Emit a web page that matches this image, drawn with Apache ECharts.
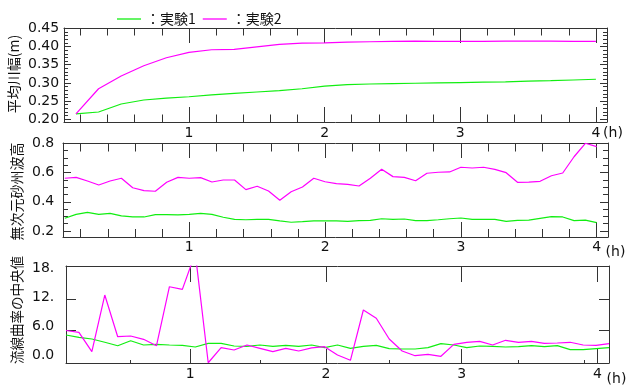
<!DOCTYPE html>
<html><head><meta charset="utf-8">
<script src="https://cdn.jsdelivr.net/npm/echarts@6/dist/echarts.min.js"></script>
<style>html,body{margin:0;padding:0;background:#fff}#c{width:626px;height:385px}</style>
</head><body><div id="c"></div>
<script>
// ---------------- data ----------------
const seriesNames = ['実験1', '実験2'];
const xTickLabels = [1, 2, 3, 4];
const yTicksTop = [0.20, 0.25, 0.30, 0.35, 0.40, 0.45];
const yTicksMid = [0.2, 0.4, 0.6, 0.8];
const yTicksBot = [0, 6, 12, 18];
const yTickLabelsBot = ['0.0', '6.0', '12.', '18.'];
const yNames = ['平均川幅(m)', '無次元砂州波高', '流線曲率の中央値'];

// top panel: sampled every 10 min (1/6 h .. 4 h)
const timeTop = Array.from({length: 24}, (_, i) => (i + 1) / 6);
const widthExp1 = [0.215,0.220,0.242,0.253,0.258,0.262,0.267,0.271,0.275,0.279,0.284,0.291,
                   0.295,0.297,0.298,0.299,0.300,0.301,0.302,0.303,0.305,0.306,0.308,0.310];
const widthExp2 = [0.215,0.284,0.319,0.347,0.369,0.384,0.391,0.392,0.399,0.406,0.409,0.410,
                   0.412,0.413,0.414,0.415,0.414,0.414,0.414,0.415,0.415,0.415,0.414,0.414];

// middle panel: sampled every 5 min (1/12 h .. 4 h)
const timeMid = Array.from({length: 48}, (_, i) => (i + 1) / 12);
const heightExp1 = [0.287,0.314,0.328,0.314,0.321,0.303,0.296,0.296,0.312,0.312,0.310,0.314,
                    0.321,0.314,0.294,0.280,0.277,0.280,0.280,0.269,0.260,0.264,0.269,0.269,
                    0.269,0.266,0.271,0.273,0.284,0.280,0.282,0.271,0.271,0.277,0.284,0.289,
                    0.280,0.280,0.280,0.266,0.273,0.275,0.287,0.298,0.296,0.271,0.275,0.257];
const heightExp2 = [0.561,0.567,0.542,0.515,0.542,0.561,0.496,0.476,0.472,0.533,0.567,0.561,
                    0.565,0.535,0.549,0.549,0.483,0.506,0.474,0.410,0.469,0.501,0.561,0.537,
                    0.524,0.519,0.508,0.561,0.622,0.572,0.567,0.544,0.595,0.602,0.604,0.636,
                    0.631,0.636,0.622,0.599,0.533,0.535,0.540,0.578,0.597,0.708,0.800,0.777];

// bottom panel: 43 samples spanning 0.086 h .. 4.085 h
const timeBot = Array.from({length: 43}, (_, i) => 0.086 + i * (4.085 - 0.086) / 42);
const curvExp1 = [5.02,4.57,4.24,3.60,2.93,3.91,3.07,3.20,3.07,3.00,2.68,3.40,3.40,2.87,2.81,
                  3.07,2.81,3.00,2.81,3.07,2.55,3.07,2.42,2.81,3.00,2.35,2.29,2.29,2.55,3.33,
                  3.07,2.55,2.87,2.81,2.68,2.74,2.94,2.74,2.94,2.16,2.16,2.35,2.55];
const curvExp2 = [5.90,5.55,1.76,12.84,4.69,4.83,4.18,2.93,14.46,13.95,21.0,-0.4,2.54,2.09,3.07,
                  2.42,1.76,2.42,1.90,2.50,2.74,1.11,0.08,9.91,8.29,4.24,1.90,0.98,1.25,0.86,
                  3.20,3.60,3.79,3.07,3.99,3.60,3.79,3.40,3.46,3.60,3.07,3.00,3.33];

// ---------------- styling ----------------
const AXIS = '#333';
const TXT = '#111';
const NUMFONT = 'DejaVu Sans';
const CJKFONT = 'Noto Sans CJK JP';
const C1 = '#11ee11', C2 = '#ff00ff';

function range(a, b, step, exclude) {
  const out = [];
  for (let v = a; v <= b + 1e-9; v += step) {
    const r = Math.round(v * 1000) / 1000;
    if (!exclude || !exclude.some(e => Math.abs(e - r) < 1e-6)) out.push(r);
  }
  return out;
}
const xMinor = range(0.2, 4.0, 0.2, xTickLabels);
const yMinorTop = range(0.20, 0.45, 0.01, yTicksTop);
const yMinorMid = range(0.2, 0.8, 0.05, yTicksMid);
const xOddBot = [0.557, 1.516, 2.47, 3.42, 3.9];

const panels = [
  {grid:{left:64, top:28, width:543, height:94}, x:[0.0786, 4.0818], y:[0.1926, 0.4508],
   xTop:[15, 7.5], xBot:[15, 7.5], xMinorTop:xMinor, xMinorBot:xMinor, yMaj:yTicksTop, yMin:yMinorTop,
   yLen:[7, 4], labelMargin:4, yLabelMargin:36, yLabels:yTicksTop, fmt:v => v.toFixed(2)},
  {grid:{left:63, top:143, width:545, height:94}, x:[0.07, 4.0833], y:[0.159, 0.802],
   xTop:[15, 8.5], xBot:[15, 8], xMinorTop:xMinor, xMinorBot:xMinor, yMaj:yTicksMid, yMin:yMinorMid,
   yLen:[8, 5], labelMargin:3, yLabelMargin:31, yLabels:yTicksMid, fmt:v => v.toFixed(1)},
  {grid:{left:66, top:266, width:543, height:97}, x:[0.086, 4.085], y:[-0.449, 18.51],
   xTop:[16, 0], xBot:[14, 3], xMinorTop:null, xMinorBot:xOddBot, yMaj:[6, 12], yMin:null,
   yLen:[10, 0], labelMargin:4, yLabelMargin:34, yLabels:null}
];

function xAxis(g, pos, r, ticks, len, line, label) {
  return {
    type:'value', gridIndex:g, position:pos, min:r[0], max:r[1], offset:0,
    axisLine:{show:line, onZero:false, lineStyle:{color:AXIS, width:1}},
    axisTick: ticks ? {show:true, inside:true, length:len, customValues:ticks, lineStyle:{color:AXIS, width:1}} : {show:false},
    axisLabel: label ? Object.assign({show:true, customValues:xTickLabels, color:TXT, fontSize:14, fontFamily:NUMFONT}, label) : {show:false},
    splitLine:{show:false}, axisPointer:{show:false}
  };
}
function yAxis(g, pos, r, ticks, len, line, label) {
  return {
    type:'value', gridIndex:g, position:pos, min:r[0], max:r[1], offset:0,
    axisLine:{show:line, onZero:false, lineStyle:{color:AXIS, width:1}},
    axisTick: ticks ? {show:true, inside:true, length:len, customValues:ticks, lineStyle:{color:AXIS, width:1}} : {show:false},
    axisLabel: label ? Object.assign({show:true, color:TXT, fontSize:14, fontFamily:NUMFONT, align:'left'}, label) : {show:false},
    splitLine:{show:false}, axisPointer:{show:false}
  };
}

const grids = [], xAxes = [], yAxes = [], series = [];
const seriesData = [[timeTop, widthExp1, widthExp2], [timeMid, heightExp1, heightExp2], [timeBot, curvExp1, curvExp2]];
panels.forEach((p, g) => {
  grids.push(Object.assign({outerBoundsMode:'none', containLabel:false}, p.grid));
  const xi = xAxes.length, yi = yAxes.length;
  xAxes.push(xAxis(g, 'bottom', p.x, xTickLabels, p.xBot[0], true, {margin:p.labelMargin}));
  xAxes.push(xAxis(g, 'bottom', p.x, p.xMinorBot, p.xBot[1], false, null));
  xAxes.push(xAxis(g, 'top', p.x, xTickLabels, p.xTop[0], true, null));
  xAxes.push(xAxis(g, 'top', p.x, p.xMinorTop, p.xTop[1], false, null));
  yAxes.push(yAxis(g, 'left', p.y, p.yMaj, p.yLen[0], true,
    p.yLabels ? {customValues:p.yLabels, margin:p.yLabelMargin, formatter:p.fmt} : null));
  yAxes.push(yAxis(g, 'left', p.y, p.yMin, p.yLen[1], false, null));
  yAxes.push(yAxis(g, 'right', p.y, p.yMaj, p.yLen[0], true, null));
  yAxes.push(yAxis(g, 'right', p.y, p.yMin, p.yLen[1], false, null));
  const [t, a, b] = seriesData[g];
  [[a, C1, seriesNames[0]], [b, C2, seriesNames[1]]].forEach(([vals, col, nm]) => {
    series.push({type:'line', name:nm, xAxisIndex:xi, yAxisIndex:yi, data:t.map((tt, i) => [tt, vals[i]]),
      symbol:'none', showSymbol:false, lineStyle:{color:col, width:1.2}, itemStyle:{color:col},
      silent:true, clip:true, animation:false});
  });
});
// bottom panel tick labels (placed where the original prints them)
yAxes.push(yAxis(2, 'left', [-1.66, 18.48], null, 0, false,
  {customValues:yTicksBot, margin:34, formatter:v => yTickLabelsBot[yTicksBot.indexOf(v)]}));

const graphics = [];
const namePos = [[13.8, 74, 14], [17, 191.5, 14], [16.8, 310, 13.5]];
yNames.forEach((n, i) => graphics.push({type:'text', x:namePos[i][0], y:namePos[i][1], rotation:Math.PI / 2,
  style:{text:n, fill:TXT, font:namePos[i][2] + 'px "' + CJKFONT + '"', textAlign:'center', textVerticalAlign:'middle'}}));
[[613, 133], [615.5, 252], [616.5, 379.5]].forEach(([x, y]) => graphics.push({type:'text', x:x, y:y,
  style:{text:'(h)', fill:TXT, font:'14px "' + NUMFONT + '"', textAlign:'center', textVerticalAlign:'middle'}}));

const chart = echarts.init(document.getElementById('c'), null, {renderer:'canvas'});
chart.setOption({
  animation:false,
  backgroundColor:'#fff',
  legend:{data:seriesNames.map(n => ({name:n, icon:'rect'})), left:112, top:7, itemWidth:24, itemHeight:1.3, itemGap:7,
    formatter:'：{name}', textStyle:{fontFamily:CJKFONT, fontSize:14, color:TXT}, selectedMode:false},
  grid:grids, xAxis:xAxes, yAxis:yAxes, series:series, graphic:graphics
});
</script></body></html>
